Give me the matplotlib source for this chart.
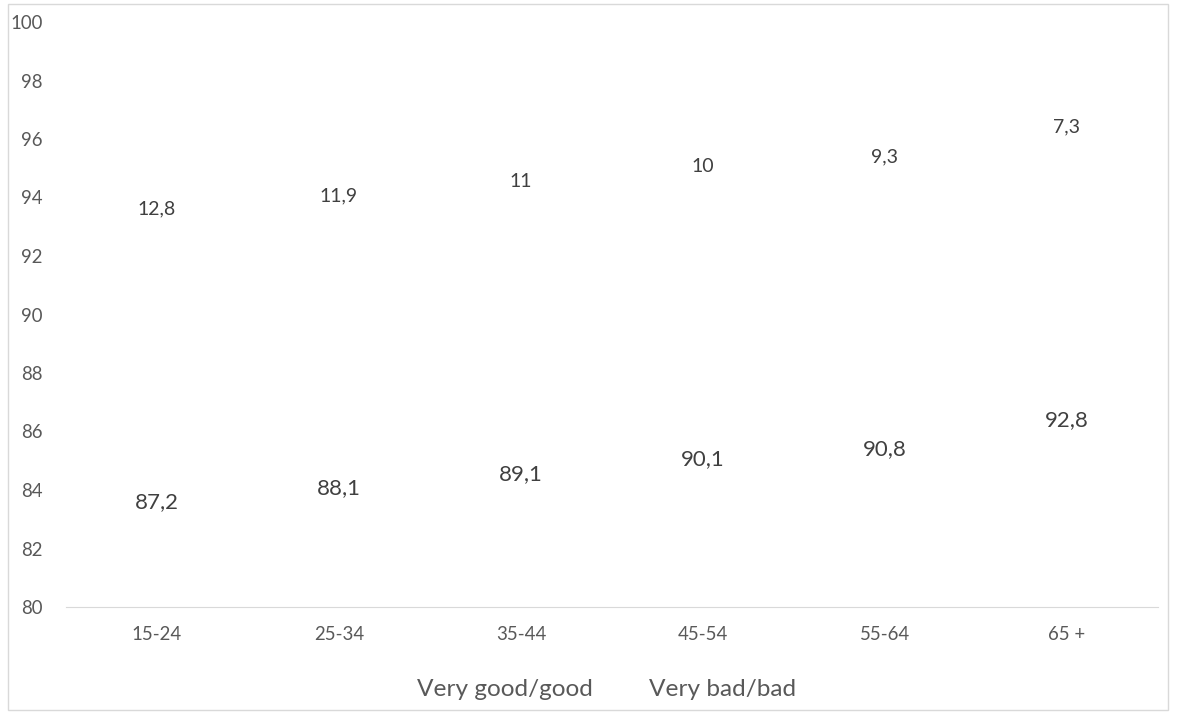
import numpy as np
import matplotlib.pyplot as plt
from matplotlib.patches import Rectangle

plt.rcParams['font.family'] = ['Lato', 'DejaVu Sans']

ages = ['15-24', '25-34', '35-44', '45-54', '55-64', '65 +']
good = [87.2, 88.1, 89.1, 90.1, 90.8, 92.8]
bad = [12.8, 11.9, 11.0, 10.0, 9.3, 7.3]

ymin, ymax = 80, 100
txt = '#404040'

fig = plt.figure(figsize=(11.78, 7.13), dpi=100)
ax = fig.add_axes([66 / 1178, 1 - 607 / 713, 1092 / 1178, 585 / 713])

x = np.arange(len(ages))
good = np.array(good)
bad = np.array(bad)
ax.bar(x, good, width=0.6, color='none', label='Very good/good')
ax.bar(x, bad, width=0.6, bottom=good, color='none', label='Very bad/bad')

ax.set_ylim(ymin, ymax)
ax.set_xlim(-0.5, len(ages) - 0.5)

# labels sit in the middle of the visible part of each segment
for i in range(len(ages)):
    lo, hi = max(ymin, 0), min(ymax, good[i])
    ax.text(x[i], (lo + hi) / 2, f'{good[i]:.1f}'.replace('.', ','),
            ha='center', va='center', fontsize=16, color=txt)
    lo, hi = max(ymin, good[i]), min(ymax, good[i] + bad[i])
    s = f'{bad[i]:g}'.replace('.', ',')
    ax.text(x[i], (lo + hi) / 2, s,
            ha='center', va='center', fontsize=14, color=txt)

ax.set_yticks(np.arange(80, 101, 2))
ax.set_xticks(x)
ax.set_xticklabels(ages)
ax.tick_params(axis='y', length=0, pad=17, labelsize=13.4, labelcolor='#595959')
ax.tick_params(axis='x', length=0, pad=14, labelsize=13.4, labelcolor='#595959')
for s in ['top', 'right', 'left']:
    ax.spines[s].set_visible(False)
ax.spines['bottom'].set_color('#d9d9d9')

leg = ax.legend(loc='upper center', bbox_to_anchor=(0.495, -0.085), ncol=2,
                frameon=False, handlelength=0, handletextpad=0,
                columnspacing=2.3, fontsize=17.6)
for t in leg.get_texts():
    t.set_color('#595959')

fig.patches.append(Rectangle((8 / 1178, 3 / 713), 1160 / 1178, 706 / 713,
                             transform=fig.transFigure, fill=False,
                             edgecolor='#d9d9d9', linewidth=1))

fig.savefig('out.png', dpi=100)
